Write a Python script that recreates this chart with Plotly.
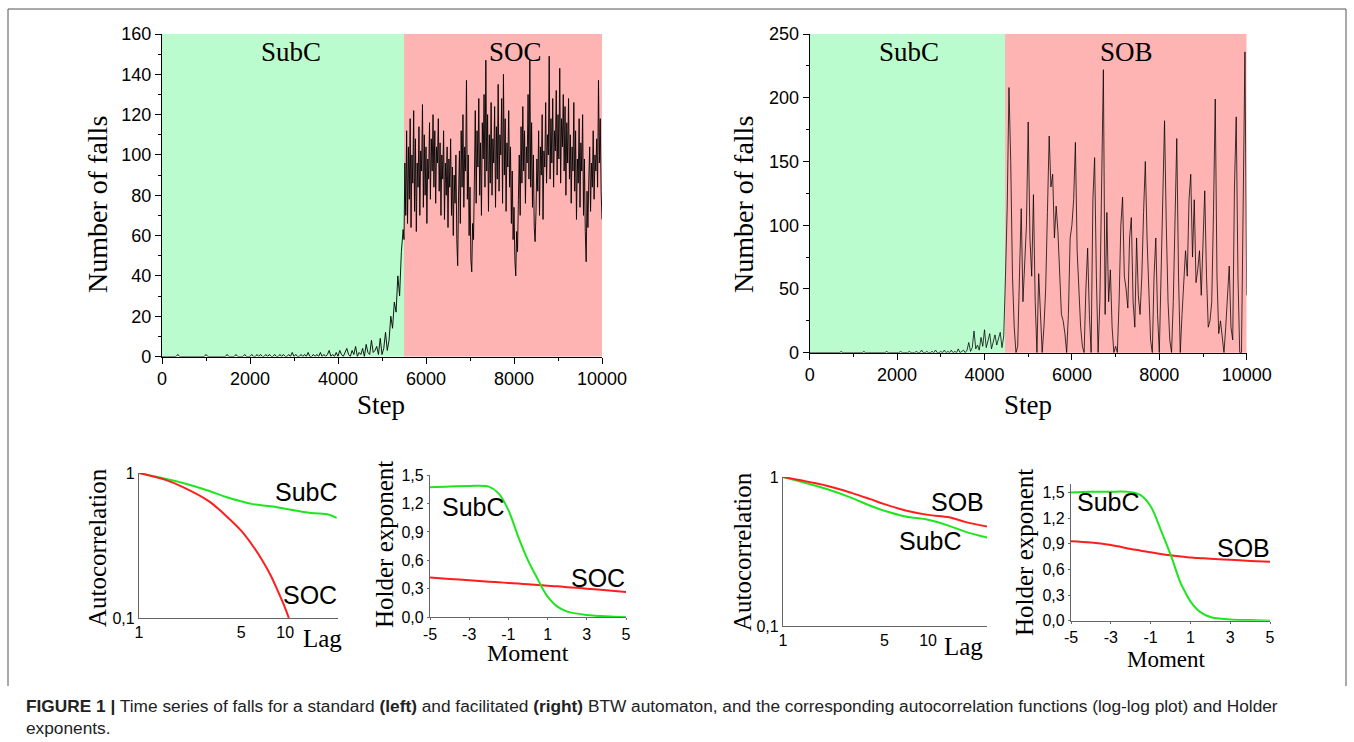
import math
import plotly.graph_objects as go

W, H = 1354, 742

# ---------------- data ----------------
# Left (standard BTW): subcritical part sampled every 40 steps from 0, SOC part every 20 steps from 5500
left_subc_vals = [
    0,0,0,0,0,0,0,0,0,1, 0,0,0,0,0,0,0,0,0,0, 0,0,0,0,0,1,0,0,0,0, 0,0,0,0,0,0,0,1,0,0, 0,0,1,0,0,0,0,1,0,0,
    0,1,0,0,1,0,1,0,0,1, 0,1,0,0,1,0,0,1,0,1, 0,0,1,0,2,0,1,0,0,1, 0,1,0,2,0,0,1,0,1,0, 2,0,1,0,1,3,0,1,0,2,
    0,3,1,0,2,4,1,0,3,1, 5,0,2,1,4,0,6,2,1,8, 2,3,5,1,9,
    1,4,12,3,8,20,14,27,22,40,30,52,63,
]
left_soc_vals = [
    58, 96, 70, 112, 66, 104, 78, 118, 64, 100,
    86, 122, 72, 108, 62, 96, 84, 114, 70, 102,
    92, 125, 74, 110, 80, 104, 66, 98, 88, 116,
    78, 108, 92, 120, 84, 112, 76, 104, 96, 118,
    82, 106, 70, 100, 88, 112, 68, 96, 80, 104,
    64, 98, 84, 108, 70, 94, 60, 90, 76, 100,
    58, 45, 80, 102, 66, 112, 84, 120, 74, 104,
    92, 137, 78, 100, 60, 84, 48, 42, 66, 58,
    88, 122, 76, 112, 94, 128, 80, 106, 70, 116,
    98, 130, 84, 147, 92, 120, 72, 110, 86, 126,
    80, 108, 96, 124, 74, 114, 88, 135, 82, 110,
    100, 128, 76, 140, 90, 118, 72, 106, 94, 122,
    84, 104, 66, 92, 58, 74, 48, 40, 62, 52,
    78, 100, 70, 114, 86, 124, 92, 112, 76, 104,
    96, 130, 88, 147, 84, 116, 74, 100, 64, 57,
    72, 98, 82, 112, 70, 104, 90, 120, 68, 102,
    94, 126, 86, 110, 100, 149, 88, 118, 96, 128,
    84, 112, 102, 132, 90, 120, 98, 143, 86, 118,
    104, 130, 92, 124, 80, 116, 96, 128, 88, 110,
    76, 104, 92, 126, 82, 112, 68, 98, 86, 118,
    74, 106, 92, 120, 70, 98, 62, 47, 82, 64,
    88, 104, 72, 96, 84, 112, 78, 100, 92, 108,
    84, 137, 96, 118, 82, 68,
]
# Right (facilitated BTW): both parts sampled every 40 steps
right_subc_vals = [
    0,0,0,0,0,0,0,0,0,0, 0,0,0,0,0,0,0,0,1,0, 0,0,0,0,0,0,0,0,0,0, 0,1,0,0,0,0,0,0,0,0, 0,0,0,0,1,0,0,0,0,0,
    0,0,1,0,0,0,0,1,0,0, 0,1,0,0,2,0,0,1,0,0, 1,0,2,0,0,1,0,2,0,1, 0,2,0,1,0,3,0,1,2,0,
    2,8,1,4,17,3,6,2,12,5,18,4,10,15,3,9,14,6,11,16,4,13,
]
right_sob_vals = [
    60,115,208,150,60,20,0,5,60,113,
    40,75,100,181,90,60,124,40,0,62,
    25,0,20,50,110,170,130,140,90,115,
    95,60,30,25,15,0,30,90,100,120,
    165,80,50,20,5,0,50,82,30,0,
    120,153,60,0,40,150,222,30,110,40,
    65,20,0,5,0,40,100,122,60,50,
    35,90,106,40,20,90,45,30,60,110,
    150,90,40,10,0,60,90,30,0,60,
    140,182,100,40,10,0,40,120,168,60,
    0,30,60,80,60,120,140,75,120,55,
    65,80,45,90,127,60,20,25,40,110,
    199,60,15,25,10,0,20,40,68,20,
    10,130,185,60,0,0,140,236,45,
]
left_boundary = 5500
right_boundary = 4470

# autocorrelation (log-log)
lag_std = [1, 2, 3, 4, 5, 6, 8, 10, 15, 20, 22.5]
acf_std_subc = [1.0, 0.853, 0.755, 0.68, 0.638, 0.61, 0.589, 0.567, 0.53, 0.516, 0.49]
lag_std_soc = [1, 1.5, 2, 3, 4, 5, 6, 7, 8, 9, 10, 10.6]
acf_std_soc = [1.0, 0.9, 0.8, 0.64, 0.5, 0.4, 0.315, 0.248, 0.195, 0.15, 0.117, 0.1]

lag_fac = [1, 2, 3, 4, 5, 7, 10, 14, 18, 25.5]
acf_fac_sob = [1.0, 0.874, 0.78, 0.71, 0.658, 0.596, 0.557, 0.537, 0.50, 0.465]
acf_fac_subc = [1.0, 0.83, 0.722, 0.641, 0.593, 0.543, 0.516, 0.47, 0.43, 0.392]

# Holder exponents
moment = [-5, -4, -3, -2, -1.5, -1, -0.5, 0, 0.5, 0.75, 1, 1.5, 2, 3, 4, 5]
holder_std_subc = [1.37, 1.38, 1.384, 1.377, 1.307, 1.13, 0.85, 0.60, 0.40, 0.30, 0.218, 0.112, 0.06, 0.025, 0.01, 0.0]
holder_std_soc = [0.42, 0.405, 0.39, 0.376, 0.369, 0.362, 0.355, 0.348, 0.341, 0.337, 0.333, 0.326, 0.318, 0.302, 0.285, 0.267]
holder_fac_subc = [1.50, 1.508, 1.51, 1.505, 1.47, 1.34, 1.07, 0.776, 0.446, 0.33, 0.227, 0.10, 0.044, 0.015, 0.007, 0.0]
holder_fac_sob = [0.93, 0.915, 0.885, 0.84, 0.82, 0.80, 0.782, 0.765, 0.752, 0.746, 0.74, 0.732, 0.725, 0.713, 0.70, 0.69]

step_ticks = [0, 2000, 4000, 6000, 8000, 10000]
moment_ticks = [-5, -3, -1, 1, 3, 5]
holder_ticks = [0, 0.3, 0.6, 0.9, 1.2, 1.5]
holder_ticktext = ["0,0", "0,3", "0,6", "0,9", "1,2", "1,5"]

# ---------------- helpers ----------------
def px_x(p):
    return p / W

def px_y(p):
    return 1 - p / H

SERIF = "Liberation Serif, Times New Roman, serif"
SANS = "Liberation Sans, Arial, sans-serif"
GREEN_BG = "rgb(186,252,206)"
RED_BG = "rgb(255,180,180)"
GREEN = "rgb(30,230,30)"
RED = "rgb(255,30,30)"

fig = go.Figure()

left_x = [40 * i for i in range(len(left_subc_vals))] + [left_boundary + 20 * k for k in range(len(left_soc_vals))]
left_y = left_subc_vals + left_soc_vals
right_x = [40 * i for i in range(len(right_subc_vals))] + [4480 + 40 * k for k in range(len(right_sob_vals))]
right_y = right_subc_vals + right_sob_vals

fig.add_trace(go.Scatter(x=left_x, y=left_y, mode="lines",
                         line=dict(color="rgba(0,0,0,0.9)", width=1),
                         xaxis="x", yaxis="y", showlegend=False))
fig.add_trace(go.Scatter(x=right_x, y=right_y, mode="lines",
                         line=dict(color="rgba(0,0,0,0.85)", width=0.9),
                         xaxis="x2", yaxis="y2", showlegend=False))

def curve(x, y, color, ax):
    fig.add_trace(go.Scatter(x=x, y=y, mode="lines", line=dict(color=color, width=2, shape="spline"),
                             xaxis="x" + ax, yaxis="y" + ax, showlegend=False))

curve(lag_std, acf_std_subc, GREEN, "3")
curve(lag_std_soc, acf_std_soc, RED, "3")
curve(moment, holder_std_soc, RED, "4")
curve(moment, holder_std_subc, GREEN, "4")
curve(lag_fac, acf_fac_subc, GREEN, "5")
curve(lag_fac, acf_fac_sob, RED, "5")
curve(moment, holder_fac_sob, RED, "6")
curve(moment, holder_fac_subc, GREEN, "6")

shapes = [
    dict(type="rect", xref="x", yref="y domain", x0=0, x1=left_boundary, y0=0, y1=1,
         fillcolor=GREEN_BG, line_width=0, layer="below"),
    dict(type="rect", xref="x", yref="y domain", x0=left_boundary, x1=10000, y0=0, y1=1,
         fillcolor=RED_BG, line_width=0, layer="below"),
    dict(type="rect", xref="x2", yref="y2 domain", x0=0, x1=right_boundary, y0=0, y1=1,
         fillcolor=GREEN_BG, line_width=0, layer="below"),
    dict(type="rect", xref="x2", yref="y2 domain", x0=right_boundary, x1=10000, y0=0, y1=1,
         fillcolor=RED_BG, line_width=0, layer="below"),
    dict(type="line", xref="paper", yref="paper", x0=px_x(8), x1=px_x(1346), y0=px_y(9), y1=px_y(9),
         line=dict(color="#555", width=1)),
    dict(type="line", xref="paper", yref="paper", x0=px_x(8), x1=px_x(8), y0=px_y(9), y1=px_y(686),
         line=dict(color="#555", width=1)),
    dict(type="line", xref="paper", yref="paper", x0=px_x(1346), x1=px_x(1346), y0=px_y(9), y1=px_y(686),
         line=dict(color="#555", width=1)),
]

tick_font_top = dict(family=SANS, size=18, color="black")
tick_font_bot = dict(family=SANS, size=16, color="black")

def top_x(domain, anchor):
    return dict(domain=domain, anchor=anchor, range=[0, 10000], tickvals=step_ticks,
                ticktext=[str(v) for v in step_ticks],
                ticks="outside", ticklen=6, tickwidth=1.2, tickcolor="black",
                minor=dict(dtick=1000, ticks="outside", ticklen=3, tickcolor="black"),
                showline=True, linecolor="black", linewidth=1.3, showgrid=False, zeroline=False,
                tickfont=tick_font_top, automargin=False)

def top_y(domain, anchor, rng, dt, mdt):
    return dict(domain=domain, anchor=anchor, range=rng, dtick=dt, ticks="outside", ticklen=6, tickwidth=1.2,
                tickcolor="black", minor=dict(dtick=mdt, ticks="outside", ticklen=3, tickcolor="black"),
                showline=True, linecolor="black", linewidth=1.3, showgrid=False, zeroline=False,
                tickfont=tick_font_top, automargin=False)

def bot_axis(domain, anchor, **kw):
    d = dict(domain=domain, anchor=anchor, showline=True, linecolor="#666", linewidth=1.2,
             showgrid=False, zeroline=False, tickfont=tick_font_bot, ticks="outside",
             ticklen=2, tickcolor="#666", automargin=False)
    d.update(kw)
    return d

fig.update_layout(
    width=W, height=H, margin=dict(l=0, r=0, t=0, b=0, pad=0, autoexpand=False),
    paper_bgcolor="white", plot_bgcolor="rgba(0,0,0,0)",
    xaxis=top_x([px_x(162), px_x(602)], "y"),
    yaxis=top_y([px_y(356.5), px_y(34)], "x", [0, 160], 20, 10),
    xaxis2=top_x([px_x(809.7), px_x(1246.7)], "y2"),
    yaxis2=top_y([px_y(352.7), px_y(34)], "x2", [0, 250], 50, 25),
    xaxis3=bot_axis([px_x(139), px_x(338)], "y3", type="log", range=[0, math.log10(23)],
                    tickvals=[1, 5, 10], ticktext=["1", "5", "10"], ticks=""),
    yaxis3=bot_axis([px_y(618), px_y(473)], "x3", type="log", range=[-1, 0],
                    tickvals=[0.1, 1], ticktext=["0,1", "1"], ticks=""),
    xaxis4=bot_axis([px_x(430), px_x(626)], "y4", range=[-5, 5], tickvals=moment_ticks,
                    ticktext=[str(v) for v in moment_ticks]),
    yaxis4=bot_axis([px_y(617.3), px_y(475)], "x4", range=[0, 1.5],
                    tickvals=holder_ticks, ticktext=holder_ticktext),
    xaxis5=bot_axis([px_x(783), px_x(987)], "y5", type="log", range=[0, math.log10(25.5)],
                    tickvals=[1, 5, 10], ticktext=["1", "5", "10"], ticks=""),
    yaxis5=bot_axis([px_y(626), px_y(477)], "x5", type="log", range=[-1, 0],
                    tickvals=[0.1, 1], ticktext=["0,1", "1"], ticks=""),
    xaxis6=bot_axis([px_x(1071), px_x(1270)], "y6", range=[-5, 5], tickvals=moment_ticks,
                    ticktext=[str(v) for v in moment_ticks]),
    yaxis6=bot_axis([px_y(620.7), px_y(484)], "x6", range=[0, 1.6],
                    tickvals=holder_ticks, ticktext=holder_ticktext),
    shapes=shapes,
)

def ann(text, x, y, size, family, angle=0, xanchor="center", yanchor="middle", color="black"):
    fig.add_annotation(text=text, x=px_x(x), y=px_y(y), xref="paper", yref="paper", showarrow=False,
                       font=dict(family=family, size=size, color=color), textangle=angle,
                       xanchor=xanchor, yanchor=yanchor)

ann("SubC", 291, 52, 27, SERIF)
ann("SOC", 515, 52, 27, SERIF)
ann("SubC", 909, 52, 27, SERIF)
ann("SOB", 1126, 52, 27, SERIF)
ann("Number of falls", 97, 205, 28, SERIF, angle=-90)
ann("Number of falls", 743, 205, 28, SERIF, angle=-90)
ann("Step", 381, 405, 27, SERIF)
ann("Step", 1028, 405, 27, SERIF)

ann("Autocorrelation", 97, 548, 25, SERIF, angle=-90)
ann("Lag", 322, 638, 25, SERIF)
ann("SubC", 306, 492, 25, SANS)
ann("SOC", 310, 595, 25, SANS)

ann("Holder exponent", 384, 545, 25, SERIF, angle=-90)
ann("Moment", 528, 653, 24, SERIF)
ann("SubC", 473, 507, 25, SANS)
ann("SOC", 598, 578, 25, SANS)

ann("Autocorrelation", 742, 552, 25, SERIF, angle=-90)
ann("Lag", 963, 646, 25, SERIF)
ann("SOB", 957, 502, 25, SANS)
ann("SubC", 930, 541, 25, SANS)

ann("Holder exponent", 1024, 553, 25, SERIF, angle=-90)
ann("Moment", 1166, 659, 23, SERIF)
ann("SubC", 1108, 502, 25, SANS)
ann("SOB", 1243, 548, 25, SANS)

ann("<b>FIGURE 1 |</b> Time series of falls for a standard <b>(left)</b> and facilitated <b>(right)</b> BTW automaton, "
    "and the corresponding autocorrelation functions (log-log plot) and Holder",
    24, 706, 17.3, SANS, xanchor="left", color="#222")
ann("exponents.", 24, 728, 17.3, SANS, xanchor="left", color="#222")

fig.write_html("out.html", config={"displayModeBar": False},
               post_script="document.body.style.margin='0';document.body.style.overflow='hidden';")
